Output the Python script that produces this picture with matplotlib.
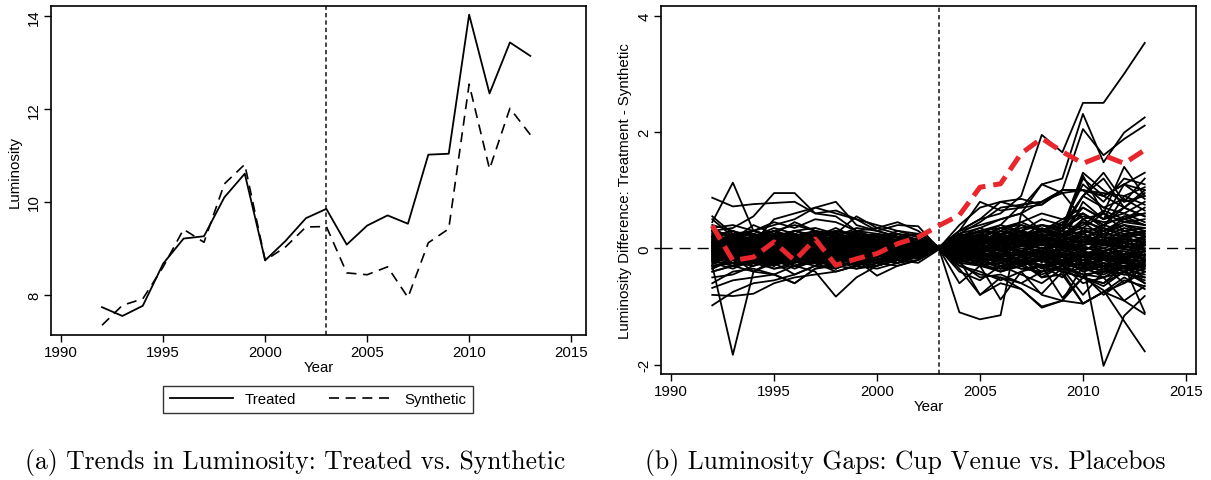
import numpy as np
import matplotlib
matplotlib.use('Agg')
import matplotlib.pyplot as plt

plt.rcParams['font.family'] = ['Liberation Sans', 'DejaVu Sans']
plt.rcParams['axes.unicode_minus'] = False

years = list(range(1992, 2014))
treated = [7.73, 7.54, 7.76, 8.67, 9.21, 9.26, 10.10, 10.61, 8.74, 9.16, 9.65,
           9.85, 9.08, 9.49, 9.71, 9.53, 11.02, 11.04, 14.04, 12.34, 13.44, 13.15]
synthetic = [7.34, 7.77, 7.91, 8.60, 9.41, 9.13, 10.39, 10.81, 8.74, 9.03, 9.46,
             9.47, 8.47, 8.43, 8.60, 7.94, 9.12, 9.42, 12.54, 10.71, 12.02, 11.45]
gap_treated = [0.39, -0.21, -0.15, 0.11, -0.21, 0.16, -0.29, -0.18, -0.09, 0.08, 0.19,
               0.39, 0.57, 1.05, 1.11, 1.63, 1.89, 1.66, 1.46, 1.60, 1.46, 1.69]

# placebo gaps (one row per placebo unit, 1992-2013)
placebo_outer = [
    [0.45, 1.13, 0.3, 0.2, 0.15, 0.1, 0.2, 0.1, 0.05, 0.1, 0.05, 0.0, 0.1, 0.15, 0.2, 0.1, 0.3, 0.2, 0.5, 0.3, 0.4, 0.3],
    [-0.3, -1.83, -0.4, -0.2, -0.1, -0.15, -0.05, -0.1, -0.05, 0.0, -0.05, 0.0, -0.2, -0.3, -0.2, -0.25, -0.3, -0.2, -0.4, -0.3, -0.2, -0.35],
    [0.87, 0.72, 0.76, 0.78, 0.8, 0.6, 0.65, 0.5, 0.4, 0.3, 0.25, 0.02, 0.3, 0.4, 0.5, 0.6, 0.8, 0.95, 1.0, 0.9, 1.1, 1.3],
    [0.3, 0.35, 0.55, 0.95, 0.95, 0.6, 0.55, 0.3, 0.25, 0.2, 0.15, 0.0, 0.25, 0.45, 0.7, 0.75, 0.8, 1.0, 1.0, 0.7, 0.6, 0.8],
    [0.5, 0.2, 0.3, 0.4, 0.5, 0.7, 0.8, 0.4, 0.3, 0.2, 0.1, 0.0, 0.2, 0.3, 0.25, 0.3, 0.4, 0.35, 1.3, 1.0, 0.8, 0.9],
    [-0.98, -0.75, -0.6, -0.55, -0.45, -0.3, -0.35, -0.2, -0.25, -0.3, -0.2, 0.0, -0.3, -0.45, -0.5, -0.7, -1.0, -0.9, -0.5, -0.6, -0.4, -0.6],
    [-0.8, -0.82, -0.78, -0.6, -0.5, -0.45, -0.4, -0.3, -0.35, -0.25, -0.2, 0.0, -0.2, -0.8, -0.5, -0.6, -0.78, -0.4, -0.95, -0.75, -0.5, -0.7],
    [-0.68, -0.55, -0.5, -0.45, -0.6, -0.35, -0.3, -0.25, -0.3, -0.2, -0.15, 0.0, -0.6, -0.3, -0.88, -0.4, -0.3, -0.5, -0.2, -0.3, -0.6, -0.3],
    [-0.4, -0.3, -0.25, -0.35, -0.3, -0.4, -0.83, -0.5, -0.3, -0.2, -0.15, 0.0, -0.1, -0.3, -0.4, -0.2, -0.3, -0.85, -0.5, -0.6, -0.3, -1.1],
    [-0.2, -0.3, -0.4, -0.45, -0.6, -0.35, -0.25, -0.2, -0.47, -0.3, -0.2, 0.0, -0.1, 0.1, 0.2, -0.1, 0.2, 0.1, 0.3, -0.2, 0.1, 0.0],
    [0.2, 0.3, 0.1, 0.3, 0.4, 0.3, 0.25, 0.55, 0.35, 0.45, 0.3, 0.02, 0.3, 0.5, 0.8, 0.7, 0.75, 1.0, 1.0, 0.9, 0.7, 1.0],
    [0.55, 0.25, 0.1, 0.5, 0.6, 0.7, 0.6, 0.5, 0.3, 0.4, 0.38, 0.0, 0.1, 0.2, 0.35, 0.2, 0.4, 0.3, 1.2, 0.9, 1.1, 1.0],
    [0.1, 0.05, -0.1, 0.0, 0.1, -0.05, 0.0, 0.05, -0.1, 0.05, 0.0, 0.0, -1.1, -1.22, -1.15, 0.6, 0.3, 0.4, 0.2, 0.3, 0.5, 0.4],
    [0.2, 0.1, 0.15, 0.3, 0.2, 0.1, 0.2, 0.15, 0.1, 0.05, 0.1, 0.0, 0.3, 0.5, 0.6, 0.9, 1.95, 1.65, 2.5, 2.5, 3.0, 3.53],
    [-0.1, 0.0, 0.1, 0.05, -0.05, 0.1, 0.0, -0.05, 0.05, 0.1, 0.05, 0.0, 0.2, 0.35, 0.5, 0.6, 1.1, 1.2, 2.31, 1.48, 1.99, 2.25],
    [0.1, -0.05, 0.0, 0.1, 0.15, 0.05, 0.1, 0.0, 0.05, 0.0, 0.08, 0.0, 0.15, 0.3, 0.4, 0.75, 0.8, 1.0, 2.05, 1.6, 1.88, 2.11],
    [-0.05, 0.1, 0.05, -0.1, 0.0, 0.1, 0.05, 0.0, -0.05, 0.05, 0.0, 0.0, -0.2, -0.1, -0.3, -0.2, -0.4, -0.3, -0.25, -2.02, -1.16, -0.82],
    [0.0, -0.1, 0.05, 0.1, -0.05, 0.0, 0.1, 0.05, 0.0, -0.05, 0.0, 0.0, -0.1, -0.2, -0.15, -0.3, -0.2, -0.4, -0.5, -0.72, -1.25, -1.77],
    [0.05, 0.0, -0.1, -0.05, 0.1, 0.05, -0.05, 0.1, 0.05, 0.0, -0.05, 0.0, -0.3, -0.4, -0.55, -0.4, -0.8, -0.9, -0.95, -0.75, -0.9, -1.13],
    [-0.15, -0.2, 0.0, -0.1, -0.2, -0.05, -0.1, -0.15, 0.0, -0.1, -0.05, 0.0, -0.35, -0.8, -0.6, -0.7, -1.02, -0.9, -0.3, -0.5, -0.3, -0.6],
    [0.15, 0.2, 0.3, 0.2, 0.1, 0.25, 0.3, 0.2, 0.1, 0.15, 0.1, 0.0, 0.4, 0.7, 0.8, 0.85, 0.75, 1.0, 1.0, 0.95, 0.9, 1.05],
    [0.3, 0.2, 0.25, 0.15, 0.3, 0.2, 0.15, 0.25, 0.2, 0.1, 0.05, 0.0, 0.3, 0.8, 0.65, 0.7, 1.1, 0.95, 0.5, 0.6, 0.3, 0.2],
    [-0.5, -0.45, -0.3, -0.2, -0.35, -0.2, -0.3, -0.35, -0.25, -0.15, -0.1, 0.0, -0.4, -0.55, -0.3, -0.45, -0.6, -0.35, -0.8, -0.4, -0.3, -0.5],
    [0.35, 0.4, 0.3, 0.45, 0.35, 0.5, 0.45, 0.3, 0.35, 0.25, 0.2, 0.02, 0.15, 0.2, 0.35, 0.4, 0.3, 0.5, 0.6, 0.4, 0.55, 0.6],
    [-0.6, -0.4, -0.35, -0.45, -0.3, -0.25, -0.4, -0.3, -0.2, -0.25, -0.12, 0.0, -0.15, -0.25, -0.4, -0.3, -0.45, -0.3, -0.6, -0.5, -0.9, -0.65],
    [-0.25, -0.35, -0.2, -0.3, -0.1, -0.2, -0.15, -0.25, -0.1, -0.2, -0.1, 0.0, -0.2, -0.3, -0.35, -0.25, -0.5, -0.45, -0.95, -0.75, -0.6, -0.4],
    [0.05, 0.1, 0.2, 0.1, 0.0, 0.15, 0.1, 0.2, 0.15, 0.1, 0.05, 0.0, 0.1, 0.2, 0.1, 0.3, 0.2, 0.3, 1.25, 0.6, 1.4, 0.9],
    [0.25, 0.1, -0.05, 0.2, 0.3, 0.35, 0.25, 0.1, 0.15, 0.3, 0.2, 0.0, 0.2, 0.1, 0.3, 0.45, 0.3, 0.4, 0.9, 1.3, 0.8, 1.2],
    [-0.35, -0.2, -0.25, -0.1, -0.3, -0.15, -0.35, -0.2, -0.3, -0.1, -0.15, 0.0, -0.25, -0.5, -0.45, -0.6, -0.4, -0.3, -0.5, -0.65, -0.4, -0.3],
    [0.1, 0.0, 0.05, 0.1, 0.0, 0.05, 0.1, 0.02, 0.0, 0.05, 0.03, 0.0, 0.1, 0.2, 0.15, 0.25, 0.3, 0.4, 1.1, 0.8, 1.2, 1.1],
    [-0.05, 0.05, 0.0, -0.05, 0.05, 0.0, -0.02, 0.05, 0.0, 0.02, 0.0, 0.0, 0.05, 0.1, 0.3, 0.2, 0.4, 0.3, 0.9, 1.2, 0.7, 0.95],
    [0.0, 0.1, 0.05, 0.0, 0.08, 0.03, 0.0, 0.06, 0.02, 0.0, 0.02, 0.0, 0.15, 0.3, 0.35, 0.45, 0.6, 0.5, 0.7, 0.5, 1.1, 0.85],
    [0.05, -0.05, 0.1, 0.05, 0.0, 0.05, 0.08, 0.0, 0.05, 0.03, 0.0, 0.0, -0.1, -0.2, -0.35, -0.15, -0.5, -0.3, -0.45, -0.8, -0.55, -0.65],
]
placebo_core = [
    [0.1, 0.05, 0.12, 0.08, 0.15, 0.1, 0.05, 0.12, 0.08, 0.06, 0.04, 0.0, 0.05, 0.1, 0.08, 0.12, 0.1, 0.15, 0.2, 0.1, 0.15, 0.1],
    [-0.1, -0.05, -0.12, -0.08, -0.15, -0.1, -0.05, -0.1, -0.08, -0.06, -0.03, 0.0, -0.05, -0.1, -0.12, -0.08, -0.1, -0.15, -0.2, -0.15, -0.1, -0.12],
    [0.2, 0.15, 0.18, 0.22, 0.1, 0.16, 0.2, 0.12, 0.1, 0.08, 0.05, 0.0, 0.1, 0.15, 0.2, 0.18, 0.25, 0.2, 0.3, 0.25, 0.2, 0.25],
    [-0.2, -0.18, -0.15, -0.22, -0.12, -0.18, -0.2, -0.15, -0.1, -0.08, -0.06, 0.0, -0.12, -0.18, -0.2, -0.15, -0.22, -0.25, -0.3, -0.2, -0.25, -0.2],
    [0.0, 0.08, -0.05, 0.05, 0.02, -0.04, 0.06, 0.0, 0.03, -0.02, 0.01, 0.0, 0.02, -0.03, 0.05, 0.0, -0.04, 0.06, 0.02, -0.05, 0.04, 0.0],
    [0.3, 0.22, 0.25, 0.15, 0.2, 0.28, 0.18, 0.22, 0.15, 0.12, 0.08, 0.01, 0.08, 0.12, 0.18, 0.22, 0.15, 0.25, 0.35, 0.3, 0.4, 0.35],
    [-0.3, -0.25, -0.2, -0.28, -0.22, -0.15, -0.25, -0.18, -0.15, -0.12, -0.08, 0.0, -0.08, -0.15, -0.2, -0.25, -0.18, -0.28, -0.35, -0.3, -0.4, -0.3],
    [0.15, -0.05, 0.1, 0.0, 0.12, 0.05, -0.02, 0.08, 0.02, 0.05, 0.0, 0.0, 0.06, 0.0, 0.1, 0.05, 0.12, 0.02, 0.15, 0.08, 0.1, 0.05],
    [-0.15, 0.05, -0.1, 0.0, -0.12, -0.05, 0.02, -0.08, -0.02, -0.05, 0.0, 0.0, -0.06, 0.0, -0.1, -0.05, -0.12, -0.02, -0.15, -0.08, -0.1, -0.05],
    [0.05, 0.2, 0.15, 0.25, 0.1, 0.05, 0.15, 0.05, 0.12, 0.02, 0.06, 0.0, 0.15, 0.25, 0.1, 0.2, 0.3, 0.15, 0.45, 0.35, 0.25, 0.3],
    [-0.05, -0.2, -0.15, -0.25, -0.1, -0.05, -0.15, -0.05, -0.12, -0.02, -0.06, 0.0, -0.15, -0.25, -0.1, -0.2, -0.3, -0.15, -0.4, -0.3, -0.25, -0.3],
    [0.22, 0.3, 0.1, 0.05, 0.18, 0.25, 0.12, 0.15, 0.05, 0.1, 0.12, 0.01, 0.05, 0.08, 0.15, 0.1, 0.05, 0.12, 0.1, 0.2, 0.15, 0.12],
    [-0.22, -0.3, -0.1, -0.05, -0.18, -0.25, -0.12, -0.15, -0.05, -0.1, -0.12, -0.01, -0.05, -0.08, -0.15, -0.1, -0.05, -0.12, -0.1, -0.2, -0.15, -0.12],
    [0.12, 0.0, 0.2, 0.15, -0.05, 0.1, 0.2, 0.0, 0.08, 0.12, 0.02, 0.0, 0.1, 0.05, 0.0, 0.15, 0.08, 0.2, 0.05, 0.3, 0.1, 0.2],
    [-0.12, 0.0, -0.2, -0.15, 0.05, -0.1, -0.2, 0.0, -0.08, -0.12, -0.02, 0.0, -0.1, -0.05, 0.0, -0.15, -0.08, -0.2, -0.05, -0.3, -0.1, -0.2],
    [0.4, 0.3, 0.2, 0.35, 0.25, 0.15, 0.3, 0.25, 0.2, 0.15, 0.12, 0.0, 0.2, 0.3, 0.25, 0.35, 0.4, 0.3, 0.7, 0.5, 0.6, 0.45],
    [-0.4, -0.3, -0.2, -0.35, -0.25, -0.15, -0.3, -0.25, -0.2, -0.15, -0.12, 0.0, -0.2, -0.3, -0.25, -0.35, -0.4, -0.3, -0.45, -0.4, -0.35, -0.45],
    [0.08, 0.12, 0.0, -0.08, 0.05, 0.15, -0.05, 0.1, 0.0, -0.05, 0.03, 0.0, 0.0, 0.08, -0.05, 0.1, 0.0, -0.08, 0.1, 0.0, 0.12, -0.05],
    [-0.08, -0.12, 0.0, 0.08, -0.05, -0.15, 0.05, -0.1, 0.0, 0.05, -0.03, 0.0, 0.0, -0.08, 0.05, -0.1, 0.0, 0.08, -0.1, 0.0, -0.12, 0.05],
    [0.18, 0.25, 0.3, 0.2, 0.25, 0.12, 0.22, 0.3, 0.18, 0.2, 0.15, 0.0, 0.12, 0.2, 0.3, 0.22, 0.28, 0.35, 0.55, 0.45, 0.5, 0.6],
    [-0.18, -0.25, -0.3, -0.2, -0.25, -0.12, -0.22, -0.3, -0.18, -0.2, -0.15, 0.0, -0.12, -0.2, -0.3, -0.22, -0.28, -0.35, -0.45, -0.5, -0.4, -0.55],
    [0.0, 0.15, 0.25, 0.1, 0.3, 0.2, 0.1, 0.15, 0.25, 0.18, 0.1, 0.0, 0.05, 0.12, 0.08, 0.2, 0.15, 0.1, 0.3, 0.2, 0.35, 0.25],
    [0.0, -0.15, -0.25, -0.1, -0.3, -0.2, -0.1, -0.15, -0.25, -0.18, -0.1, 0.0, -0.05, -0.12, -0.08, -0.2, -0.15, -0.1, -0.3, -0.2, -0.35, -0.25],
    [0.28, 0.05, 0.15, 0.3, 0.05, 0.2, 0.35, 0.18, 0.25, 0.1, 0.18, 0.0, 0.25, 0.15, 0.35, 0.3, 0.5, 0.4, 0.35, 0.6, 0.45, 0.5],
    [-0.28, -0.05, -0.15, -0.3, -0.05, -0.2, -0.35, -0.18, -0.25, -0.1, -0.18, 0.0, -0.25, -0.15, -0.35, -0.3, -0.2, -0.4, -0.35, -0.45, -0.3, -0.4],
    [0.1, 0.25, 0.05, 0.15, 0.22, 0.3, 0.1, 0.2, 0.12, 0.25, 0.08, 0.0, 0.05, 0.2, 0.12, 0.05, 0.2, 0.1, 0.8, 0.5, 0.7, 0.55],
    [-0.1, -0.25, -0.05, -0.15, -0.22, -0.3, -0.1, -0.2, -0.12, -0.25, -0.08, 0.0, -0.05, -0.2, -0.12, -0.05, -0.2, -0.1, -0.3, -0.15, -0.25, -0.1],
    [0.05, -0.1, 0.08, -0.05, 0.1, 0.0, 0.12, -0.06, 0.04, 0.08, -0.02, 0.0, 0.04, -0.06, 0.08, -0.04, 0.06, 0.1, -0.05, 0.15, 0.0, 0.08],
    [0.35, 0.15, 0.4, 0.25, 0.45, 0.3, 0.2, 0.35, 0.3, 0.2, 0.25, 0.02, 0.1, 0.25, 0.4, 0.3, 0.2, 0.35, 0.9, 0.7, 0.85, 0.65],
    [-0.35, -0.15, -0.4, -0.25, -0.45, -0.3, -0.2, -0.35, -0.3, -0.2, -0.25, -0.02, -0.1, -0.25, -0.4, -0.3, -0.2, -0.35, -0.25, -0.4, -0.3, -0.25],
    [0.05, 0.15, 0.02, 0.12, 0.18, 0.08, 0.14, 0.04, 0.1, 0.15, 0.06, 0.0, 0.08, 0.02, 0.12, 0.06, 0.15, 0.08, 0.2, 0.12, 0.18, 0.1],
    [-0.05, -0.15, -0.02, -0.12, -0.18, -0.08, -0.14, -0.04, -0.1, -0.15, -0.06, 0.0, -0.08, -0.02, -0.12, -0.06, -0.15, -0.08, -0.2, -0.12, -0.18, -0.1],
    [0.25, 0.1, 0.22, 0.3, 0.15, 0.25, 0.1, 0.22, 0.15, 0.05, 0.1, 0.0, 0.15, 0.22, 0.1, 0.25, 0.18, 0.3, 0.25, 0.4, 0.3, 0.35],
    [-0.25, -0.1, -0.22, -0.3, -0.15, -0.25, -0.1, -0.22, -0.15, -0.05, -0.1, 0.0, -0.15, -0.22, -0.1, -0.25, -0.18, -0.3, -0.25, -0.35, -0.3, -0.28],
    [0.12, 0.18, 0.25, 0.05, 0.08, 0.2, 0.25, 0.1, 0.2, 0.08, 0.04, 0.0, 0.02, 0.1, 0.2, 0.15, 0.05, 0.22, 0.12, 0.05, 0.25, 0.15],
    [-0.12, -0.18, -0.25, -0.05, -0.08, -0.2, -0.25, -0.1, -0.2, -0.08, -0.04, 0.0, -0.02, -0.1, -0.2, -0.15, -0.05, -0.22, -0.12, -0.05, -0.25, -0.15],
    [0.0, 0.05, 0.1, 0.18, 0.06, 0.12, 0.0, 0.16, 0.06, 0.1, 0.08, 0.0, 0.1, 0.18, 0.05, 0.12, 0.22, 0.1, 0.05, 0.15, 0.3, 0.2],
    [-0.02, -0.06, -0.1, -0.18, -0.06, -0.12, 0.0, -0.16, -0.06, -0.1, -0.08, 0.0, -0.1, -0.18, -0.05, -0.12, -0.22, -0.1, -0.05, -0.15, -0.2, -0.22],
    [0.18, 0.08, 0.0, 0.1, 0.2, 0.12, 0.05, 0.18, 0.12, 0.02, 0.05, 0.0, -0.04, 0.06, 0.02, -0.05, 0.1, 0.04, 0.25, 0.1, 0.05, 0.12],
    [-0.18, -0.08, 0.0, -0.1, -0.2, -0.12, -0.05, -0.18, -0.12, -0.02, -0.05, 0.0, 0.04, -0.06, -0.02, 0.05, -0.1, -0.04, -0.25, -0.1, -0.05, -0.12],
    [0.08, 0.02, 0.06, 0.14, 0.0, 0.04, 0.1, 0.06, -0.02, 0.04, 0.02, 0.0, 0.03, 0.06, 0.0, 0.04, 0.08, 0.0, 0.06, 0.1, 0.02, 0.06],
    [-0.08, -0.02, -0.06, -0.14, 0.0, -0.04, -0.1, -0.06, 0.02, -0.04, -0.02, 0.0, -0.03, -0.06, 0.0, -0.04, -0.08, 0.0, -0.06, -0.1, -0.02, -0.06],
    [0.32, 0.2, 0.12, 0.2, 0.3, 0.22, 0.28, 0.12, 0.2, 0.25, 0.15, 0.01, 0.18, 0.1, 0.22, 0.15, 0.32, 0.25, 0.4, 0.65, 0.5, 0.7],
    [-0.32, -0.2, -0.12, -0.2, -0.3, -0.22, -0.28, -0.12, -0.2, -0.25, -0.15, -0.01, -0.18, -0.1, -0.22, -0.15, -0.32, -0.25, -0.3, -0.4, -0.45, -0.35],
    [0.15, 0.1, 0.05, 0.0, 0.1, 0.18, 0.12, 0.08, 0.14, 0.06, 0.1, 0.0, 0.06, 0.14, 0.2, 0.1, 0.15, 0.25, 0.15, 0.2, 0.1, 0.18],
    [-0.15, -0.1, -0.05, 0.0, -0.1, -0.18, -0.12, -0.08, -0.14, -0.06, -0.1, 0.0, -0.06, -0.14, -0.2, -0.1, -0.15, -0.25, -0.15, -0.2, -0.1, -0.18],
    [0.02, -0.04, 0.04, 0.0, -0.03, 0.05, -0.02, 0.03, 0.0, 0.02, -0.01, 0.0, 0.02, 0.0, -0.03, 0.04, 0.0, 0.03, -0.02, 0.05, 0.02, -0.02],
    [0.22, 0.12, 0.3, 0.18, 0.1, 0.22, 0.16, 0.28, 0.1, 0.16, 0.05, 0.0, 0.12, 0.08, 0.18, 0.28, 0.2, 0.15, 0.5, 0.3, 0.45, 0.4],
    [-0.22, -0.12, -0.3, -0.18, -0.1, -0.22, -0.16, -0.28, -0.1, -0.16, -0.05, 0.0, -0.12, -0.08, -0.18, -0.28, -0.2, -0.15, -0.35, -0.25, -0.3, -0.32],
    [0.1, 0.2, 0.12, 0.05, 0.25, 0.15, 0.08, 0.2, 0.05, 0.12, 0.1, 0.0, 0.2, 0.12, 0.25, 0.1, 0.2, 0.3, 0.6, 0.35, 0.9, 0.75],
]
placebo_post = [
    [0.04, 0.1, -0.06, 0.08, -0.04, 0.1, -0.08, 0.06, -0.02, 0.05, 0.02, 0.0, 0.15, -0.1, 0.2, -0.15, 0.25, -0.1, 0.3, -0.2, 0.25, -0.15],
    [-0.04, -0.1, 0.06, -0.08, 0.04, -0.1, 0.08, -0.06, 0.02, -0.05, -0.02, 0.0, -0.15, 0.1, -0.2, 0.15, -0.25, 0.1, -0.3, 0.2, -0.25, 0.15],
    [0.0, 0.06, 0.12, 0.0, 0.1, -0.06, 0.04, 0.12, 0.0, 0.06, 0.04, 0.0, 0.2, 0.28, 0.1, 0.22, 0.05, 0.3, 0.15, 0.35, 0.2, 0.3],
    [0.0, -0.06, -0.12, 0.0, -0.1, 0.06, -0.04, -0.12, 0.0, -0.06, -0.04, 0.0, -0.2, -0.28, -0.1, -0.22, -0.05, -0.3, -0.15, -0.35, -0.2, -0.3],
    [0.06, 0.0, 0.1, 0.14, 0.04, 0.08, 0.16, 0.02, 0.1, 0.0, 0.05, 0.0, -0.05, 0.12, 0.25, 0.15, 0.35, 0.2, 0.1, 0.25, 0.4, 0.22],
    [-0.06, 0.0, -0.1, -0.14, -0.04, -0.08, -0.16, -0.02, -0.1, 0.0, -0.05, 0.0, 0.05, -0.12, -0.25, -0.15, -0.35, -0.2, -0.1, -0.25, -0.4, -0.22],
    [0.14, 0.06, 0.2, 0.1, 0.16, 0.04, 0.12, 0.2, 0.08, 0.14, 0.06, 0.0, 0.08, 0.18, 0.12, 0.04, 0.18, 0.08, 0.2, 0.05, 0.15, 0.28],
    [-0.14, -0.06, -0.2, -0.1, -0.16, -0.04, -0.12, -0.2, -0.08, -0.14, -0.06, 0.0, -0.08, -0.18, -0.12, -0.04, -0.18, -0.08, -0.2, -0.05, -0.15, -0.28],
    [0.02, 0.08, 0.0, 0.06, 0.12, 0.02, 0.08, 0.0, 0.06, 0.02, 0.0, 0.0, 0.22, 0.05, -0.1, 0.1, 0.0, 0.15, -0.05, 0.12, 0.22, 0.05],
    [-0.02, -0.08, 0.0, -0.06, -0.12, -0.02, -0.08, 0.0, -0.06, -0.02, 0.0, 0.0, -0.22, -0.05, 0.1, -0.1, 0.0, -0.15, 0.05, -0.12, -0.22, -0.05],
    [0.1, 0.14, 0.08, 0.02, 0.06, 0.12, 0.02, 0.1, 0.04, 0.08, 0.02, 0.0, 0.1, 0.05, 0.18, 0.3, 0.12, 0.25, 0.45, 0.2, 0.55, 0.4],
    [-0.1, -0.14, -0.08, -0.02, -0.06, -0.12, -0.02, -0.1, -0.04, -0.08, -0.02, 0.0, -0.1, -0.05, -0.18, -0.3, -0.12, -0.25, -0.2, -0.35, -0.25, -0.4],
    [0.0, 0.02, 0.08, 0.04, -0.02, 0.06, 0.0, -0.04, 0.04, 0.0, 0.01, 0.0, -0.08, 0.06, 0.15, -0.08, 0.1, -0.12, 0.35, 0.1, -0.1, 0.2],
    [0.0, -0.02, -0.08, -0.04, 0.02, -0.06, 0.0, 0.04, -0.04, 0.0, -0.01, 0.0, 0.08, -0.06, -0.15, 0.08, -0.1, 0.12, -0.3, -0.05, 0.1, -0.2],
    [0.2, 0.1, 0.16, 0.24, 0.2, 0.08, 0.18, 0.14, 0.22, 0.1, 0.08, 0.0, 0.25, 0.35, 0.2, 0.4, 0.3, 0.45, 0.6, 0.4, 0.7, 0.55],
    [-0.2, -0.1, -0.16, -0.24, -0.2, -0.08, -0.18, -0.14, -0.22, -0.1, -0.08, 0.0, -0.25, -0.3, -0.2, -0.35, -0.3, -0.4, -0.5, -0.35, -0.45, -0.5],
]

xticks = [1990, 1995, 2000, 2005, 2010, 2015]
W, H = 1211, 481

fig = plt.figure(figsize=(W / 100, H / 100), dpi=100)
ax1 = fig.add_axes([51 / W, 1 - 336 / H, 535 / W, 328.7 / H])
ax2 = fig.add_axes([661 / W, 1 - 375 / H, 535 / W, 367.7 / H])

fs = 10.8
for ax in (ax1, ax2):
    for s in ax.spines.values():
        s.set_linewidth(1.2)
    ax.tick_params(direction='out', length=5, width=1, labelsize=fs, pad=2)
    ax.set_xticks(xticks)
    ax.axvline(2003, color='#444444', lw=1.4, ls=(0, (2.2, 1.6)), zorder=1)

# left panel
ax1.plot(years, treated, color='black', lw=1.3, label='Treated')
ax1.plot(years, synthetic, color='black', lw=1.2, ls=(0, (6, 4)), label='Synthetic')
ax1.set_xlim(1989.5, 2015.73)
ax1.set_ylim(7.13, 14.22)
ax1.set_yticks([8, 10, 12, 14])
for t in ax1.get_yticklabels():
    t.set_rotation(90)
    t.set_va('center')
ax1.set_xlabel('Year', fontsize=fs, labelpad=1)
ax1.set_ylabel('Luminosity', fontsize=fs, labelpad=4)
leg = ax1.legend(loc='center', bbox_to_anchor=(318 / W, 1 - 400.5 / H),
                 bbox_transform=fig.transFigure, ncol=2, fontsize=fs,
                 fancybox=False, edgecolor='black', handlelength=4.2,
                 columnspacing=2.2, borderpad=0.45, handletextpad=0.8)
leg.get_frame().set_linewidth(1.0)

# right panel
for row in placebo_core + placebo_post + placebo_outer:
    ax2.plot(years, row, color='black', lw=1.3, zorder=2)
ax2.plot(years, gap_treated, color='#e8262b', lw=3.6, ls=(0, (3.2, 1.6)), zorder=4)
ax2.axhline(0, color='black', lw=1.0, ls=(0, (8, 5)), zorder=3)
ax2.set_xlim(1989.51, 2015.49)
ax2.set_ylim(-2.16, 4.16)
ax2.set_yticks([-2, 0, 2, 4])
for t in ax2.get_yticklabels():
    t.set_rotation(90)
    t.set_va('center')
ax2.set_xlabel('Year', fontsize=fs, labelpad=1)
ax2.set_ylabel('Luminosity Difference: Treatment - Synthetic', fontsize=fs, labelpad=4)

# captions
cap = dict(fontsize=18.4, family='cmr10', ha='center', va='center')
fig.text(295 / W, 1 - 463 / H, '(a) Trends in Luminosity: Treated vs. Synthetic', **cap)
fig.text(905 / W, 1 - 463 / H, '(b) Luminosity Gaps: Cup Venue vs. Placebos', **cap)

fig.savefig('out.png', dpi=100)
